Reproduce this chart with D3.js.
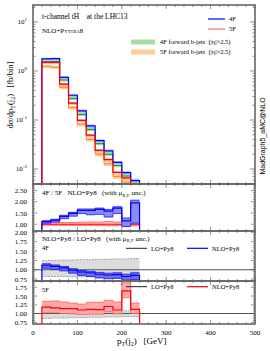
<!DOCTYPE html>
<meta charset="utf-8">
<script src="https://d3js.org/d3.v7.min.js"></script>
<style>
body { margin: 0; background: white; }
text { font-family: "Liberation Serif", "DejaVu Serif", serif; fill: black; white-space: pre; }
.tick { font-size: 7px; }
</style>
<body></body>
<script>
// ---------------------------//
//          DATA              //
// ---------------------------//
const edges = [20, 40, 60, 80, 100, 120, 140, 160, 180, 200, 220, 240];

// main panel, dsigma/dpT [fb/bin]
const nlo4f   = [1.76, 1.78, 0.74, 0.32, 0.153, 0.076, 0.038, 0.0235, 0.0137, 0.0084, 0.0058];
const nlo4fLo = [1.66, 1.68, 0.69, 0.295, 0.14, 0.069, 0.0345, 0.021, 0.0122, 0.0075, 0.0051];
const nlo4fHi = [1.86, 1.88, 0.78, 0.34, 0.163, 0.081, 0.0405, 0.025, 0.0146, 0.009, 0.0063];
const nlo5f   = [1.5, 1.5, 0.54, 0.22, 0.098, 0.049, 0.024, 0.0155, 0.0085, 0.0066, 0.0042];
const nlo5fLo = [1.38, 1.38, 0.49, 0.2, 0.089, 0.044, 0.0216, 0.014, 0.0076, 0.0058, 0.0037];
const nlo5fHi = [1.58, 1.58, 0.57, 0.235, 0.104, 0.052, 0.0256, 0.0165, 0.009, 0.007, 0.0045];
const fwd4f   = [1.55, 1.56, 0.655, 0.275, 0.13, 0.064, 0.033, 0.02, 0.0118, 0.0072, 0.005];
const fwd4fLo = [1.45, 1.46, 0.61, 0.255, 0.12, 0.059, 0.0305, 0.0185, 0.0108, 0.0066, 0.0046];
const fwd4fHi = [1.66, 1.67, 0.7, 0.295, 0.14, 0.069, 0.0355, 0.0215, 0.0127, 0.0078, 0.0054];
const fwd5f   = [1.25, 1.2, 0.465, 0.18, 0.082, 0.04, 0.02, 0.0128, 0.007, 0.0054, 0.0035];
const fwd5fLo = [1.14, 1.1, 0.42, 0.163, 0.074, 0.036, 0.018, 0.0115, 0.0063, 0.0048, 0.0031];
const fwd5fHi = [1.33, 1.28, 0.5, 0.193, 0.088, 0.043, 0.0214, 0.0137, 0.0075, 0.0058, 0.0038];

// ratio 4F / 5F
const r45   = [1.12, 1.18, 1.35, 1.48, 1.62, 1.62, 1.66, 1.58, 1.72, 1.15, 1.95];
const r45Lo = [1.05, 1.1, 1.25, 1.36, 1.48, 1.42, 1.44, 1.32, 1.48, 0.9, 1.05];
const r45Hi = [1.16, 1.22, 1.4, 1.53, 1.68, 1.68, 1.72, 1.66, 1.78, 1.28, 2.07];
const r55   = [1, 1, 1, 1, 1, 1, 1, 1, 1, 1, 1];
const r55Lo = [0.96, 0.96, 0.95, 0.95, 0.94, 0.95, 0.94, 0.93, 0.94, 0.92, 0.93];
const r55Hi = [1.07, 1.07, 1.08, 1.08, 1.09, 1.1, 1.1, 1.12, 1.1, 1.13, 1.12];

// NLO / LO, 4F
const lo4fLo = [0.82, 0.82, 0.82, 0.81, 0.81, 0.81, 0.8, 0.8, 0.8, 0.8, 0.79];
const lo4fHi = [1.25, 1.25, 1.26, 1.26, 1.27, 1.27, 1.28, 1.28, 1.29, 1.29, 1.3];
const k4f    = [1.12, 1.09, 1.05, 0.99, 0.94, 0.92, 0.88, 0.86, 0.87, 0.82, 0.85];
const k4fLo  = [1.04, 1.01, 0.97, 0.91, 0.85, 0.82, 0.78, 0.76, 0.77, 0.72, 0.74];
const k4fHi  = [1.16, 1.13, 1.09, 1.03, 0.98, 0.96, 0.93, 0.91, 0.92, 0.88, 0.92];

// NLO / LO, 5F
const lo5fLo = [0.86, 0.87, 0.87, 0.88, 0.88, 0.89, 0.89, 0.9, 0.9, 0.91, 0.91];
const lo5fHi = [1.06, 1.06, 1.06, 1.06, 1.07, 1.07, 1.07, 1.07, 1.07, 1.08, 1.08];
const k5f    = [1.18, 1.16, 1.14, 1.14, 1.1, 1.12, 1.11, 1.2, 1.1, 1.65, 1.12];
const k5fLo  = [1.02, 1.02, 1.0, 0.99, 0.97, 0.98, 0.98, 1.05, 0.99, 1.45, 1.0];
const k5fHi  = [1.35, 1.36, 1.33, 1.3, 1.27, 1.32, 1.32, 1.38, 1.33, 1.88, 1.3];

const xTicks = [0, 100, 200, 300, 400, 500];

// ---------------------------//
//          LAYOUT            //
// ---------------------------//
const width = 270, height = 351;
const left = 33, right = 255;
const frameColor = "#666";

const SVG = d3.select("body").append("svg")
  .attr("width", width)
  .attr("height", height);

const x = d3.scaleLinear().domain([0, 500]).range([left, right]);

const yMain = d3.scaleLog().domain([0.00494, 22.2]).range([184, 5]);
const yR1 = d3.scaleLinear().domain([0.7, 2.79]).range([231, 184]);
const yR2 = d3.scaleLinear().domain([0.7, 2.035]).range([281, 231]);
const yR3 = d3.scaleLinear().domain([0.7, 1.93]).range([324, 281]);

// histogram helpers
function stepPts(vals) {
  const pts = vals.map((v, i) => [edges[i], v]);
  pts.push([edges[edges.length - 1], vals[vals.length - 1]]);
  return pts;
}
function fullPts(vals, zero, end) {
  const pts = [[0, zero]];
  vals.forEach((v, i) => pts.push([edges[i], v]));
  pts.push([edges[edges.length - 1], zero]);
  pts.push([end, zero]);
  return pts;
}
function bandPts(lo, hi) {
  const pts = lo.map((v, i) => [edges[i], v, hi[i]]);
  pts.push([edges[edges.length - 1], lo[lo.length - 1], hi[hi.length - 1]]);
  return pts;
}

function clip(id, y) {
  SVG.append("clipPath").attr("id", id).append("rect")
    .attr("x", left).attr("y", y.range()[1])
    .attr("width", right - left).attr("height", y.range()[0] - y.range()[1]);
  return SVG.append("g").attr("clip-path", "url(#" + id + ")");
}

function drawBand(g, y, lo, hi, fill, edge, dash) {
  const pts = bandPts(lo, hi);
  g.append("path")
    .attr("d", d3.area().curve(d3.curveStepAfter)
      .x(d => x(d[0])).y0(d => y(d[1])).y1(d => y(d[2]))(pts))
    .attr("fill", fill);
  if (edge) {
    [1, 2].forEach(k => {
      g.append("path")
        .attr("d", d3.line().curve(d3.curveStepAfter)
          .x(d => x(d[0])).y(d => y(d[k]))(pts))
        .attr("fill", "none").attr("stroke", edge).attr("stroke-width", 0.7)
        .attr("stroke-dasharray", dash || null);
    });
  }
}

function drawLine(g, y, pts, color, w) {
  g.append("path")
    .attr("d", d3.line().curve(d3.curveStepAfter)
      .x(d => x(d[0])).y(d => y(d[1]))(pts))
    .attr("fill", "none").attr("stroke", color).attr("stroke-width", w || 1.2);
}

// ---------------------------//
//        MAIN PANEL          //
// ---------------------------//
const gMain = clip("cMain", yMain);
const yMin = yMain.domain()[0];
drawBand(gMain, yMain, nlo4fLo, nlo4fHi, "#b4b8ff");
drawBand(gMain, yMain, nlo5fLo, nlo5fHi, "#ffb4b4");
drawBand(gMain, yMain, fwd4fLo, fwd4fHi, "#a8dca8");
drawBand(gMain, yMain, fwd5fLo, fwd5fHi, "#ffcc99");
drawLine(gMain, yMain, stepPts(fwd4f), "#1a9a1a", 1);
drawLine(gMain, yMain, stepPts(fwd5f), "#ff8c1a", 1);
drawLine(gMain, yMain, fullPts(nlo4f, yMin, 500), "#0000ff");
drawLine(gMain, yMain, fullPts(nlo5f, yMin, 500), "#ff0000");

// ---------------------------//
//       RATIO PANELS         //
// ---------------------------//
const g1 = clip("cR1", yR1);
drawBand(g1, yR1, r55Lo, r55Hi, "#ffc0c0", "#ff4040");
drawLine(g1, yR1, fullPts(r55, 0, 260), "#ff0000", 1);
drawBand(g1, yR1, r45Lo, r45Hi, "#8c8cf0", "#0000ff");
drawLine(g1, yR1, fullPts(r45, 0, 260), "#0000ff");

const g2 = clip("cR2", yR2);
drawBand(g2, yR2, lo4fLo, lo4fHi, "#dcdcdc", "#888", "2,1");
g2.append("line").attr("x1", left).attr("x2", right)
  .attr("y1", yR2(1)).attr("y2", yR2(1)).attr("stroke", "#555").attr("stroke-width", 1);
drawBand(g2, yR2, k4fLo, k4fHi, "#6e6ee6", "#0000ff");
drawLine(g2, yR2, fullPts(k4f, 0, 260), "#0000ff");

const g3 = clip("cR3", yR3);
drawBand(g3, yR3, lo5fLo, lo5fHi, "#dcdcdc", "#888", "2,1");
g3.append("line").attr("x1", left).attr("x2", right)
  .attr("y1", yR3(1)).attr("y2", yR3(1)).attr("stroke", "#555").attr("stroke-width", 1);
drawBand(g3, yR3, k5fLo, k5fHi, "#ffa8a8", "#ff5050");
drawLine(g3, yR3, fullPts(k5f, 0, 260), "#ff0000");

// ---------------------------//
//        TICKS / FRAMES      //
// ---------------------------//
function xTickMarks(y) {
  const top = y.range()[1], bot = y.range()[0];
  d3.range(0, 501, 20).forEach(v => {
    const len = v % 100 === 0 ? 4 : 2;
    SVG.append("line").attr("x1", x(v)).attr("x2", x(v))
      .attr("y1", bot).attr("y2", bot - len).attr("stroke", "#444").attr("stroke-width", 0.6);
    SVG.append("line").attr("x1", x(v)).attr("x2", x(v))
      .attr("y1", top).attr("y2", top + len).attr("stroke", "#444").attr("stroke-width", 0.6);
  });
}
function yTickMark(yp, len) {
  SVG.append("line").attr("x1", left).attr("x2", left + len)
    .attr("y1", yp).attr("y2", yp).attr("stroke", "#444").attr("stroke-width", 0.6);
  SVG.append("line").attr("x1", right).attr("x2", right - len)
    .attr("y1", yp).attr("y2", yp).attr("stroke", "#444").attr("stroke-width", 0.6);
}

[yMain, yR1, yR2, yR3].forEach(xTickMarks);

// log ticks, main panel
[-3, -2, -1, 0, 1].forEach(e => {
  d3.range(1, 10).forEach(m => {
    const v = m * Math.pow(10, e);
    if (v < yMain.domain()[0] || v > yMain.domain()[1]) return;
    yTickMark(yMain(v), m === 1 ? 5 : 2.5);
  });
});
[1, 0, -1, -2].forEach(e => {
  const t = SVG.append("text").attr("class", "tick")
    .attr("x", 27).attr("y", yMain(Math.pow(10, e)) + 2.5)
    .attr("text-anchor", "end");
  t.append("tspan").text("10");
  t.append("tspan").attr("dy", -3).attr("font-size", "5px").text(e);
});

function linTicks(y, major, minor, labels) {
  const [a, b] = y.domain();
  d3.range(Math.ceil(a / minor) * minor, b + 1e-9, minor).forEach(v => {
    const isMajor = Math.abs(v / major - Math.round(v / major)) < 1e-6;
    yTickMark(y(v), isMajor ? 4 : 2);
  });
  labels.forEach(v => {
    SVG.append("text").attr("class", "tick")
      .attr("x", 27).attr("y", y(v) + 2.5).attr("text-anchor", "end")
      .text(v.toFixed(2));
  });
}
linTicks(yR1, 0.5, 0.1, [1.0, 1.5, 2.0, 2.5]);
linTicks(yR2, 0.25, 0.05, [0.75, 1.0, 1.25, 1.5, 1.75, 2.0]);
linTicks(yR3, 0.25, 0.05, [0.75, 1.0, 1.25, 1.5, 1.75]);

[yMain, yR1, yR2, yR3].forEach(y => {
  SVG.append("rect")
    .attr("x", left).attr("y", y.range()[1])
    .attr("width", right - left).attr("height", y.range()[0] - y.range()[1])
    .attr("fill", "none").attr("stroke", frameColor).attr("stroke-width", 1.6);
});

// x tick labels
xTicks.forEach(v => {
  SVG.append("text").attr("class", "tick")
    .attr("x", x(v)).attr("y", 334.5).attr("text-anchor", "middle").text(v);
});

// ---------------------------//
//        AXIS TITLES         //
// ---------------------------//
const xt = SVG.append("text").attr("x", 117).attr("y", 344).style("font-size", "9px");
xt.append("tspan").text("p");
xt.append("tspan").attr("dy", 2).style("font-size", "6px").text("T");
xt.append("tspan").attr("dy", -2).text("(j");
xt.append("tspan").attr("dy", 2).style("font-size", "6px").text("2");
xt.append("tspan").attr("dy", -2).text(")   [GeV]");

const yt = SVG.append("text")
  .attr("transform", "translate(13,95) rotate(-90)")
  .attr("text-anchor", "middle").style("font-size", "8.5px");
yt.append("tspan").text("dσ/dp");
yt.append("tspan").attr("dy", 2).style("font-size", "6px").text("T");
yt.append("tspan").attr("dy", -2).text("(j");
yt.append("tspan").attr("dy", 2).style("font-size", "6px").text("2");
yt.append("tspan").attr("dy", -2).text(")   [fb/bin]");

SVG.append("text")
  .attr("transform", "translate(265,136) rotate(-90)")
  .attr("text-anchor", "middle")
  .style("font-family", "'Liberation Sans', Arial, sans-serif")
  .style("font-size", "7px")
  .text("MadGraph5_aMC@NLO");

// ---------------------------//
//       LABELS / LEGEND      //
// ---------------------------//
SVG.append("text").attr("x", 42).attr("y", 19).style("font-size", "7.5px")
  .text("t-channel tH    at the LHC13");
SVG.append("text").attr("x", 42).attr("y", 32.5).style("font-size", "7px")
  .style("font-variant", "small-caps").text("NLO+Pythia8");

function legLine(x1, x2, y, color, label, w) {
  SVG.append("line").attr("x1", x1).attr("x2", x2).attr("y1", y).attr("y2", y)
    .attr("stroke", color).attr("stroke-width", w || 1.2);
  SVG.append("text").attr("x", x2 + 4).attr("y", y + 2.3)
    .style("font-size", "6.5px").text(label);
}
legLine(208, 225, 19, "#0000ff", "4F");
legLine(208, 225, 29, "#f07070", "5F");

function legBox(y, color, label) {
  SVG.append("rect").attr("x", 131).attr("y", y - 2.5).attr("width", 24).attr("height", 5)
    .attr("fill", color);
  SVG.append("text").attr("x", 160).attr("y", y + 2.3)
    .style("font-size", "6.5px").text(label);
}
legBox(42, "#a8dca8", "4F forward b-jets  (|η|>2.5)");
legBox(52, "#ffcc99", "5F forward b-jets  (|η|>2.5)");

function muText(xp, yp, pre) {
  const t = SVG.append("text").attr("x", xp).attr("y", yp).style("font-size", "7px");
  t.append("tspan").text(pre + "   (with μ");
  t.append("tspan").attr("dy", 1.5).style("font-size", "5px").text("R,F");
  t.append("tspan").attr("dy", -1.5).text(" unc.)");
}
muText(42, 195, "4F / 5F   NLO+Py8");
muText(42, 240.5, "NLO+Py8 / LO+Py8");
SVG.append("text").attr("x", 42).attr("y", 249.5).style("font-size", "6.5px").text("4F");
SVG.append("text").attr("x", 42).attr("y", 292).style("font-size", "6.5px").text("5F");

legLine(126, 147, 248.3, "#222", "LO+Py8", 1);
legLine(187, 208, 248.3, "#0000ff", "NLO+Py8");
legLine(126, 147, 286.7, "#222", "LO+Py8", 1);
legLine(187, 208, 286.7, "#ff0000", "NLO+Py8");
</script>
